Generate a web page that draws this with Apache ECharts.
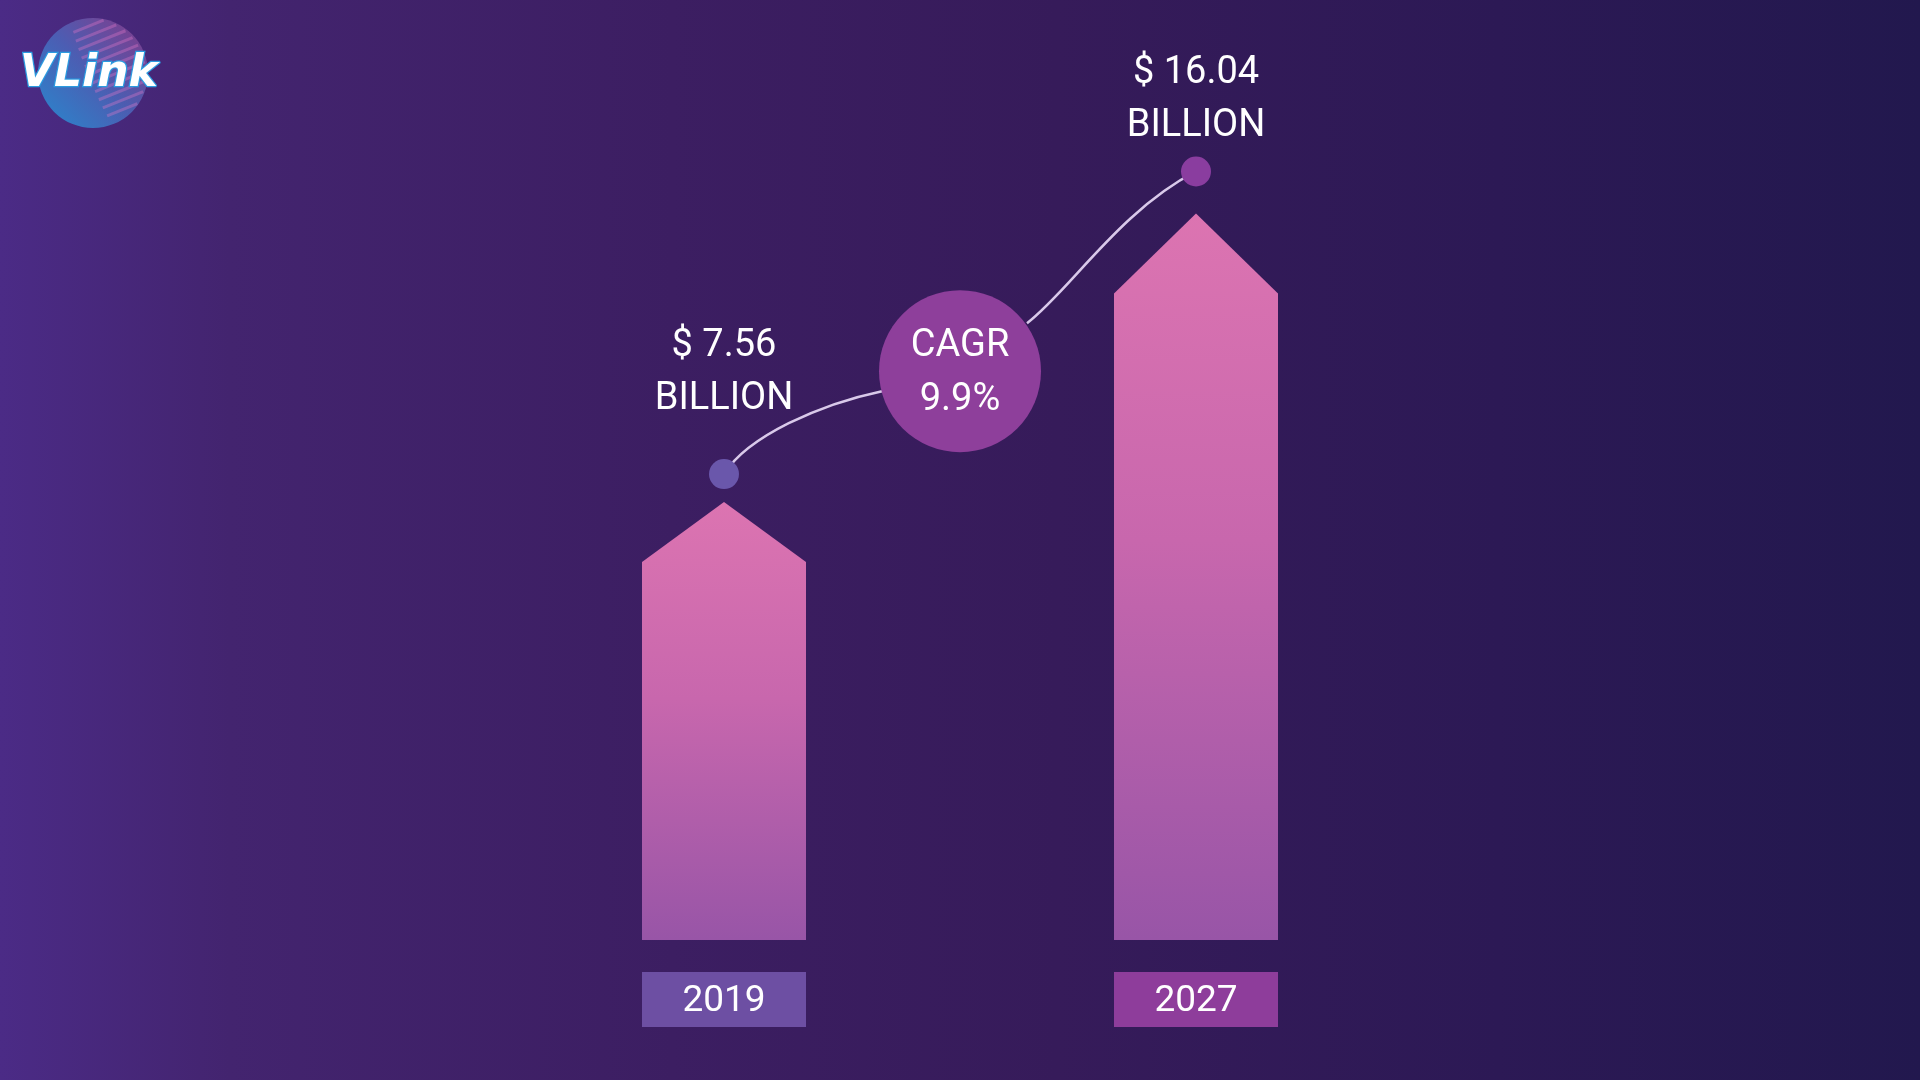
<!DOCTYPE html>
<html>
<head>
<meta charset="utf-8">
<script src="https://cdn.jsdelivr.net/npm/echarts/dist/echarts.min.js"></script>
<style>
html,body{margin:0;padding:0;width:1920px;height:1080px;overflow:hidden;}
#c{width:1920px;height:1080px;background:linear-gradient(90deg,#4b2b86 0%,#43246f 12%,#3c1e62 35%,#361b5a 55%,#2c1955 78%,#22184e 100%);}
</style>
</head>
<body>
<div id="c"></div>
<script>
// ---- data ----
const years = [2019, 2027];
const values = [7.56, 16.04];
const unitLabel = 'BILLION';
const cagrTitle = 'CAGR';
const cagrText = '9.9%';
const brandText = 'VLink';
const valueLabels = values.map(v => '$ ' + v.toFixed(2));

// ---- styles / layout ----
const FONT = 'Roboto, "Noto Sans", sans-serif';
const Y_MIN = -5.5, Y_MAX = 20;
const BAR_W = 164;
const boxColors = ['#6d4fa3', '#8e3d9b'];
const dotColors = ['#6a57ab', '#8a3d9f'];
const tipGap = [28, 42];
const tipHeight = [60, 80];
const labelLift = [128, 97.5];
const CAGR_FRAC = 0.34;
const cagrX = (years[0] + years[1]) / 2;
const cagrV = values[0] + CAGR_FRAC * (values[1] - values[0]);

const chart = echarts.init(document.getElementById('c'), null, {renderer: 'canvas'});

function barGradient() {
  return new echarts.graphic.LinearGradient(0, 0, 0, 1, [
    {offset: 0, color: '#dc74b1'},
    {offset: 0.45, color: '#c867ad'},
    {offset: 1, color: '#9855a7'}
  ]);
}

function renderArrow(params, api) {
  const i = params.dataIndex;
  const x = api.value(0), v = api.value(1);
  const dot = api.coord([x, v]);
  const baseY = api.coord([x, Y_MIN])[1];
  const cx = dot[0];
  const apexY = dot[1] + tipGap[i];
  const shoulderY = apexY + tipHeight[i];
  const hw = BAR_W / 2;
  return {
    type: 'group',
    children: [
      {type: 'polygon', shape: {points: [[cx - hw, baseY], [cx - hw, shoulderY], [cx, apexY], [cx + hw, shoulderY], [cx + hw, baseY]]},
       style: {fill: barGradient()}},
      {type: 'rect', shape: {x: cx - hw, y: baseY + 32, width: BAR_W, height: 55}, style: {fill: boxColors[i]}},
      {type: 'text', style: {text: String(years[i]), x: cx, y: baseY + 62, align: 'center', verticalAlign: 'middle',
        fill: '#ffffff', fontSize: 37, fontFamily: FONT}},
      {type: 'text', style: {text: valueLabels[i] + '\n' + unitLabel, x: cx, y: dot[1] - labelLift[i] + 26.5,
        align: 'center', verticalAlign: 'middle', lineHeight: 53, fill: '#ffffff', fontSize: 38, fontFamily: FONT}}
    ]
  };
}

function renderConnectors(params, api) {
  const d1 = api.coord([years[0], values[0]]);
  const d2 = api.coord([years[1], values[1]]);
  const c = api.coord([cagrX, cagrV]);
  const st = {stroke: '#d9c9ea', lineWidth: 2.5, fill: null};
  return {
    type: 'group',
    children: [
      {type: 'bezierCurve', shape: {x1: d1[0], y1: d1[1], cpx1: d1[0] + 24, cpy1: d1[1] - 38,
        cpx2: c[0] - 140, cpy2: c[1] + 33, x2: c[0] - 78, y2: c[1] + 20}, style: st},
      {type: 'bezierCurve', shape: {x1: c[0] + 67, y1: c[1] - 48, cpx1: c[0] + 110, cpy1: c[1] - 81,
        cpx2: d2[0] - 76, cpy2: d2[1] + 39, x2: d2[0], y2: d2[1]}, style: st}
    ]
  };
}

// logo stripes
const gcx = 93, gcy = 73, gr = 55;
const stripes = [];
const ang = -22 * Math.PI / 180;
const ux = Math.cos(ang), uy = Math.sin(ang), nx = -uy, ny = ux;
for (let k = -5; k <= 5; k++) {
  const d = k * 9;
  if (Math.abs(d) >= gr - 2) continue;
  const h = Math.sqrt(gr * gr - d * d) - 2;
  const mx = gcx + nx * d, my = gcy + ny * d;
  stripes.push({type: 'line', shape: {x1: mx - ux * h * 0.1, y1: my - uy * h * 0.1, x2: mx + ux * h, y2: my + uy * h},
    style: {stroke: 'rgba(230,120,200,0.35)', lineWidth: 3}, z: 11});
}

const option = {
  animation: false,
  backgroundColor: 'transparent',
  grid: {left: 193, right: 193, top: 30.2, bottom: 140},
  xAxis: {type: 'value', min: 2010, max: 2036, show: false},
  yAxis: {type: 'value', min: Y_MIN, max: Y_MAX, show: false},
  graphic: [
    {type: 'circle', shape: {cx: gcx, cy: gcy, r: gr}, z: 10,
     style: {fill: new echarts.graphic.LinearGradient(0, 1, 1, 0, [
       {offset: 0, color: '#1ea8e8'}, {offset: 0.5, color: '#4d6fc4'}, {offset: 1, color: '#9a3f8e'}]), opacity: 0.75}},
    ...stripes,
    {type: 'text', x: 20, y: 75, z: 12,
     style: {text: brandText, fill: '#ffffff', stroke: '#2b9be0', lineWidth: 2.5,
       font: 'italic bold 44px "DejaVu Sans", sans-serif', verticalAlign: 'middle', align: 'left',
       shadowColor: 'rgba(0,0,0,0.35)', shadowBlur: 4}}
  ],
  series: [
    {type: 'custom', name: 'connectors', z: 1, renderItem: renderConnectors, data: [[cagrX, cagrV]], silent: true},
    {type: 'custom', name: 'market', z: 2, renderItem: renderArrow,
     data: years.map((y, i) => [y, values[i]])},
    {type: 'scatter', name: 'points', z: 3, symbolSize: 30,
     itemStyle: {color: p => dotColors[p.dataIndex], opacity: 1},
     data: years.map((y, i) => [y, values[i]])},
    {type: 'scatter', name: 'cagr', z: 4, symbolSize: 162,
     itemStyle: {color: '#8e3f9b', opacity: 1},
     label: {show: true, position: 'inside', offset: [0, 2], formatter: cagrTitle + '\n' + cagrText,
       color: '#ffffff', fontSize: 38, lineHeight: 54, fontFamily: FONT},
     data: [[cagrX, cagrV]]}
  ]
};
chart.setOption(option);
</script>
</body>
</html>
